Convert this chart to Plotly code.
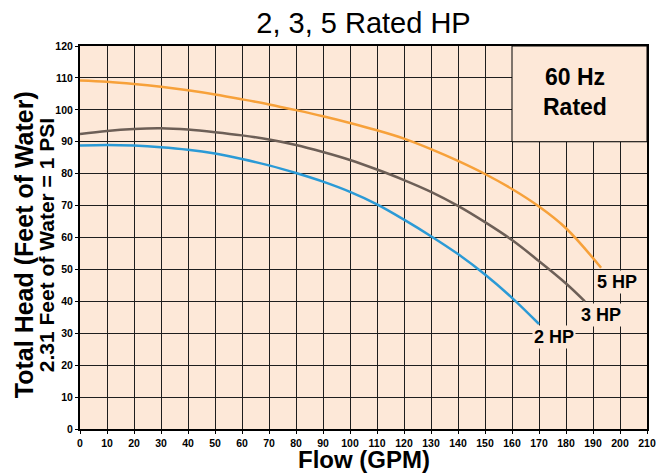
import plotly.graph_objects as go

# ---- data ----
hp5_flow = [0, 10, 20, 30, 40, 50, 60, 70, 80, 90, 100, 110, 120, 130, 140, 150, 160, 170, 180, 193]
hp5_head = [109.2, 108.8, 108.1, 107.2, 106.1, 104.8, 103.3, 101.7, 99.9, 98.0, 95.9, 93.6, 91.0, 87.7, 84.0, 79.9, 75.2, 69.7, 62.9, 50.5]

hp3_flow = [0, 10, 20, 30, 40, 50, 60, 70, 80, 90, 100, 110, 120, 130, 140, 150, 160, 170, 180, 187]
hp3_head = [92.4, 93.4, 94.0, 94.2, 93.8, 93.0, 92.0, 90.7, 89.0, 86.8, 84.3, 81.3, 78.0, 74.3, 69.9, 64.8, 59.2, 52.6, 45.6, 40.0]

hp2_flow = [0, 10, 20, 30, 40, 50, 60, 70, 80, 90, 100, 110, 120, 130, 140, 150, 160, 170]
hp2_head = [88.8, 89.0, 88.8, 88.3, 87.5, 86.3, 84.6, 82.6, 80.2, 77.5, 74.3, 70.4, 65.6, 60.4, 54.8, 48.4, 41.1, 32.9]

series_names = ["5 HP", "3 HP", "2 HP"]
label_pos = [(199, 46), (193, 35.7), (175.6, 28.9)]

x_ticks = list(range(0, 211, 10))
y_ticks = list(range(0, 121, 10))

BG = "#fde8d8"
FONT = "Liberation Sans, Arial, Helvetica, sans-serif"
colors = ["#f7a13a", "#6d5f57", "#2b9ad6"]

fig = go.Figure()
for fx, hy, c, n in zip([hp5_flow, hp3_flow, hp2_flow], [hp5_head, hp3_head, hp2_head], colors, series_names):
    fig.add_trace(go.Scatter(x=fx, y=hy, mode="lines", name=n,
                             line=dict(color=c, width=2.5, shape="spline", smoothing=1.0),
                             showlegend=False, hoverinfo="skip"))

# 60 Hz box
fig.add_shape(type="rect", x0=160, x1=210, y0=90, y1=120, xref="x", yref="y",
              fillcolor=BG, line=dict(color="black", width=1), layer="above")
fig.add_annotation(x=183.5, y=105.5, xref="x", yref="y", text="60 Hz<br>Rated",
                   showarrow=False, font=dict(family=FONT, size=23, color="black", weight=700),
                   align="center")

for (lx, ly), n in zip(label_pos, series_names):
    fig.add_annotation(x=lx, y=ly, xref="x", yref="y", text=n, showarrow=False,
                       bgcolor=BG, borderpad=1,
                       font=dict(family=FONT, size=18, color="black", weight=700))

# axis titles
fig.add_annotation(x=0.5, y=0, xref="paper", yref="paper", yshift=-30, yanchor="middle",
                   text="Flow (GPM)", showarrow=False,
                   font=dict(family=FONT, size=24, color="black", weight=700))
fig.add_annotation(x=0, y=0.48, xref="paper", yref="paper", xshift=-56, xanchor="center",
                   yanchor="middle", textangle=-90, text="Total Head (Feet of Water)",
                   showarrow=False, font=dict(family=FONT, size=25, color="black", weight=700))
fig.add_annotation(x=0, y=0.48, xref="paper", yref="paper", xshift=-34, xanchor="center",
                   yanchor="middle", textangle=-90, text="2.31 Feet of Water = 1 PSI",
                   showarrow=False, font=dict(family=FONT, size=21, color="black", weight=700))

axis_common = dict(showgrid=True, gridcolor="#1e1e1e", gridwidth=1,
                   showline=True, linecolor="black", linewidth=2, mirror=True,
                   ticks="outside", ticklen=3, tickcolor="black",
                   tickfont=dict(family=FONT, size=10.5, color="black", weight=700),
                   zeroline=False, fixedrange=True)

fig.update_xaxes(range=[0, 210], tickvals=x_ticks, ticktext=[str(v) for v in x_ticks], **axis_common)
fig.update_yaxes(range=[0, 120], tickvals=y_ticks, ticktext=[str(v) for v in y_ticks], **axis_common)

# the page body adds an 8px margin, so the figure is sized/offset to compensate
fig.update_layout(
    width=660, height=466, autosize=False,
    margin=dict(l=72, r=18, t=38, b=45),
    paper_bgcolor="white", plot_bgcolor=BG,
    title=dict(text="2, 3, 5 Rated HP", x=0.5, xref="paper", xanchor="center",
               y=1 - 15 / 466, yref="container", yanchor="middle",
               font=dict(family=FONT, size=29, color="black")),
)

fig.write_html("out.html")
